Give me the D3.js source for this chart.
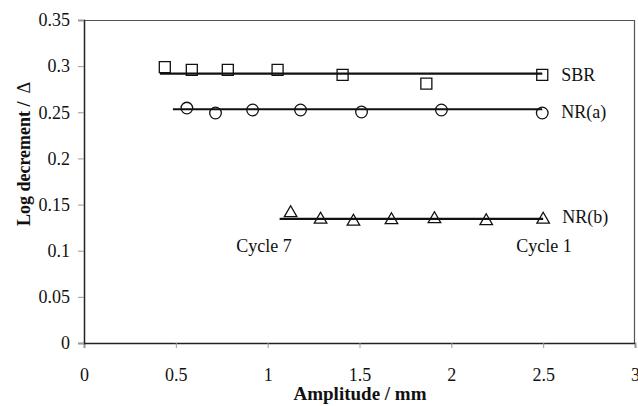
<!DOCTYPE html>
<html>
<head>
<meta charset="utf-8">
<script src="https://cdn.jsdelivr.net/npm/d3@7"></script>
<style>
  body { margin: 0; background: #fff; }
  svg text { font-family: "Liberation Serif", "Times New Roman", serif !important; fill: #111; }
</style>
</head>
<body>
<div id="vis"></div>
<script>
// amplitude (mm) and log decrement for each compound
const ampSBR = [0.44, 0.587, 0.783, 1.054, 1.408, 1.864, 2.495];
const decSBR = [0.299, 0.296, 0.296, 0.296, 0.2905, 0.281, 0.2905];
const ampNRa = [0.56, 0.716, 0.918, 1.179, 1.511, 1.946, 2.495];
const decNRa = [0.2546, 0.2492, 0.2525, 0.2525, 0.2503, 0.2525, 0.2492];
const ampNRb = [1.125, 1.288, 1.467, 1.674, 1.908, 2.19, 2.5];
const decNRb = [0.1409, 0.1338, 0.1317, 0.1333, 0.1344, 0.1322, 0.1338];

// horizontal fit lines
const seriesNames = ['SBR', 'NR(a)', 'NR(b)'];
const fitStart = [0.413, 0.484, 1.065];
const fitEnd = [2.495, 2.495, 2.5];
const fitValue = [0.2918, 0.2533, 0.1344];

const xTicks = [0, 0.5, 1, 1.5, 2, 2.5, 3];
const yTicks = [0, 0.05, 0.1, 0.15, 0.2, 0.25, 0.3, 0.35];

const cycleLabels = ['Cycle 7', 'Cycle 1'];
const cycleAt = [0.98, 2.505];

const margin = { top: 20, right: 3, bottom: 63, left: 84 };
const W = 638, H = 406;
const width = W - margin.left - margin.right;
const height = H - margin.top - margin.bottom;

const $svg = d3.select('#vis').append('svg')
  .attr('width', W)
  .attr('height', H);
const $plot = $svg.append('g')
  .attr('transform', `translate(${margin.left}, ${margin.top})`);

const x = d3.scaleLinear().domain([0, 3]).range([0, width]);
const y = d3.scaleLinear().domain([0, 0.35]).range([height, 0]);

// frame (top / right)
$plot.append('path')
  .attr('d', `M0,0.5H${width - 0.5}V${height}`)
  .attr('fill', 'none')
  .attr('stroke', '#555')
  .attr('stroke-width', 1.2);

const xAxis = d3.axisBottom(x).tickValues(xTicks).tickSize(5).tickPadding(20)
  .tickFormat(d3.format('~g'));
const yAxis = d3.axisLeft(y).tickValues(yTicks).tickSize(6).tickPadding(8)
  .tickFormat(d3.format('~g'));

$plot.append('g')
  .attr('class', 'axis x')
  .attr('transform', `translate(0, ${height})`)
  .call(xAxis)
  .call(g => g.select('.domain').attr('stroke', '#222').attr('stroke-width', 1.5))
  .call(g => g.selectAll('.tick line').attr('stroke', '#999'))
  .call(g => g.selectAll('text').attr('font-size', 18).attr('fill', '#111'));

$plot.append('g')
  .attr('class', 'axis y')
  .call(yAxis)
  .call(g => g.select('.domain').attr('stroke', '#222').attr('stroke-width', 1.5))
  .call(g => g.selectAll('.tick line').attr('stroke', '#999'))
  .call(g => g.selectAll('text').attr('font-size', 18).attr('fill', '#111'));

// fit lines
$plot.selectAll('.fit')
  .data(seriesNames)
  .enter().append('line')
  .attr('class', 'fit')
  .attr('x1', (d, i) => x(fitStart[i]))
  .attr('x2', (d, i) => x(fitEnd[i]))
  .attr('y1', (d, i) => y(fitValue[i]))
  .attr('y2', (d, i) => y(fitValue[i]))
  .attr('stroke', '#111')
  .attr('stroke-width', 2.2);

// markers
const series = [
  { amp: ampSBR, dec: decSBR, type: d3.symbolSquare, size: 121 },
  { amp: ampNRa, dec: decNRa, type: d3.symbolCircle, size: 106 },
  { amp: ampNRb, dec: decNRb, type: d3.symbolTriangle, size: 68 }
];

series.forEach(s => {
  const pts = s.amp.map((a, i) => ({ a, v: s.dec[i] }));
  $plot.append('g').selectAll('path')
    .data(pts)
    .enter().append('path')
    .attr('d', d3.symbol().type(s.type).size(s.size))
    .attr('transform', d => `translate(${x(d.a)}, ${y(d.v)})`)
    .attr('fill', 'none')
    .attr('stroke', '#111')
    .attr('stroke-width', 1.3);
});

// series labels
const labelDy = [7.5, 8.7, 4];
$plot.selectAll('.series-label')
  .data(seriesNames)
  .enter().append('text')
  .attr('class', 'series-label')
  .attr('x', (d, i) => x(fitEnd[i]) + 19)
  .attr('y', (d, i) => y(fitValue[i]) + labelDy[i])
  .attr('font-size', 18)
  .text(d => d);

$plot.selectAll('.cycle-label')
  .data(cycleLabels)
  .enter().append('text')
  .attr('class', 'cycle-label')
  .attr('x', (d, i) => x(cycleAt[i]))
  .attr('y', y(0.1) + 1)
  .attr('text-anchor', 'middle')
  .attr('font-size', 18)
  .text(d => d);

// axis titles
$svg.append('text')
  .attr('x', 360)
  .attr('y', 400)
  .attr('text-anchor', 'middle')
  .attr('font-size', 19)
  .attr('font-weight', 'bold')
  .text('Amplitude / mm');

const yTitle = $svg.append('text')
  .attr('transform', 'translate(30, 154) rotate(-90)')
  .attr('text-anchor', 'middle')
  .attr('font-size', 18)
  .attr('font-weight', 'bold');
yTitle.append('tspan').text('Log decrement /');
yTitle.append('tspan').attr('dx', 8).attr('font-weight', 'normal').text('Δ');
</script>
</body>
</html>
